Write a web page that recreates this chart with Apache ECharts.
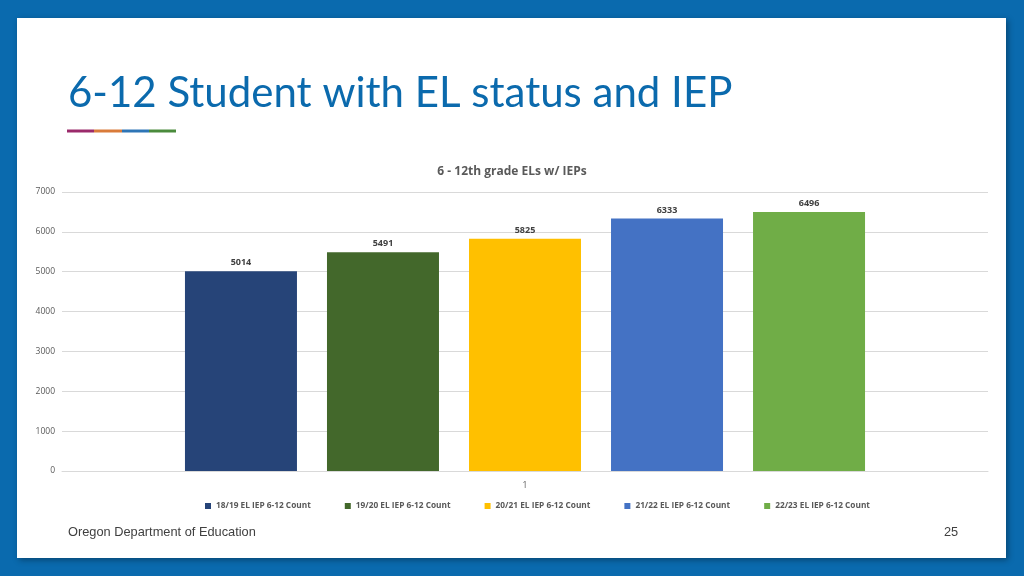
<!DOCTYPE html>
<html><head><meta charset="utf-8">
<script src="https://cdn.jsdelivr.net/npm/echarts@6/dist/echarts.min.js"></script>
<style>html,body{margin:0;padding:0;background:#0A6AAE;}#c{width:1024px;height:576px;}</style>
</head><body><div id="c"></div>
<script>
const categories = ['1'];
const seriesNames = ['18/19 EL IEP 6-12 Count','19/20 EL IEP 6-12 Count','20/21 EL IEP 6-12 Count','21/22 EL IEP 6-12 Count','22/23 EL IEP 6-12 Count'];
const seriesValues = [[5014],[5491],[5825],[6333],[6496]];
const seriesColors = ['#264478','#43682B','#FFC000','#4472C4','#70AD47'];
const yTicks = [0,1000,2000,3000,4000,5000,6000,7000];

const chart = echarts.init(document.getElementById('c'));
const series = seriesNames.map((n,i)=>({
  name:n, type:'bar', data:seriesValues[i], barWidth:112, barGap:'26.8%',
  itemStyle:{color:seriesColors[i]},
  label:{show:true, position:'top', distance:4, color:'#404040', fontWeight:'bold', fontSize:9, fontFamily:'Open Sans'}
}));
chart.setOption({
  backgroundColor:'#0A6AAE',
  animation:false,
  graphic:[
    {type:'rect', shape:{x:17,y:18,width:989,height:540}, style:{fill:'#ffffff', shadowBlur:6, shadowColor:'rgba(0,0,0,0.35)', shadowOffsetX:2, shadowOffsetY:2}, z:-10},
    {type:'text', left:68, top:72, style:{text:'6-12 Student with EL status and IEP', font:'42px Lato', fill:'#0B6AAD'}},
    {type:'rect', shape:{x:67,y:129.5,width:27,height:3}, style:{fill:'#9B2A6B'}},
    {type:'rect', shape:{x:94,y:129.5,width:28,height:3}, style:{fill:'#D97B3A'}},
    {type:'rect', shape:{x:122,y:129.5,width:27,height:3}, style:{fill:'#2E75B6'}},
    {type:'rect', shape:{x:149,y:129.5,width:27,height:3}, style:{fill:'#4A8B3C'}},
    {type:'text', left:68, top:526, style:{text:'Oregon Department of Education', font:'12.8px "Liberation Sans"', fill:'#404040'}},
    {type:'text', left:944, top:526, style:{text:'25', font:'12.8px "Liberation Sans"', fill:'#404040'}}
  ],
  title:{text:'6 - 12th grade ELs w/ IEPs', left:'center', top:161, textStyle:{fontSize:12, fontWeight:'bold', color:'#595959', fontFamily:'Open Sans'}},
  legend:{bottom:61, left:200, itemWidth:6, itemHeight:6, itemGap:34, icon:'rect',
    textStyle:{fontSize:8.3, color:'#595959', fontWeight:'bold', fontFamily:'Open Sans'}},
  grid:{left:62, right:36, top:192, bottom:105, containLabel:false},
  xAxis:{type:'category', data:categories, axisLine:{lineStyle:{color:'#D9D9D9'}}, axisTick:{show:false},
    axisLabel:{color:'#595959', fontSize:8.5, margin:10, fontFamily:'Open Sans'}},
  yAxis:{type:'value', min:0, max:7000, interval:1000, splitLine:{lineStyle:{color:'#D9D9D9'}},
    axisLabel:{color:'#595959', fontSize:8.5, margin:7, fontFamily:'Open Sans', formatter:v=>yTicks.includes(v)?String(v):''}},
  series:series
});
</script></body></html>
